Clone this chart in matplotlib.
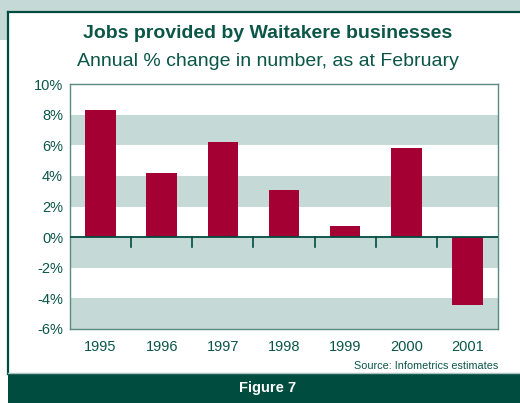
import matplotlib.pyplot as plt
from matplotlib.patches import Rectangle
from matplotlib.lines import Line2D
import numpy as np

plt.rcParams['font.family'] = ['Liberation Sans', 'DejaVu Sans']

years = ["1995", "1996", "1997", "1998", "1999", "2000", "2001"]
change = [8.3, 4.2, 6.2, 3.1, 0.7, 5.8, -4.4]
yticks = [-6, -4, -2, 0, 2, 4, 6, 8, 10]
bands = [(6, 8), (2, 4), (-2, 0), (-6, -4)]

dark = "#004c3f"
text_col = "#0b5646"
band_col = "#c5d9d7"
bar_col = "#a50034"
frame_col = "#5a8a80"

W, H = 520, 403
fig = plt.figure(figsize=(W / 100, H / 100), dpi=100)
fig.patch.set_facecolor("white")

def fx(px):
    return px / W

def fy(py):
    return 1 - py / H

# page background corner and the box border
fig.patches.append(Rectangle((0, fy(12)), 1, 12 / H, transform=fig.transFigure,
                             facecolor=band_col, edgecolor="none", zorder=0))
fig.patches.append(Rectangle((0, fy(40)), fx(8), 28 / H, transform=fig.transFigure,
                             facecolor=band_col, edgecolor="none", zorder=0))
fig.lines.append(Line2D([fx(8), 1], [fy(12), fy(12)], transform=fig.transFigure,
                        color=dark, lw=1.6))
fig.lines.append(Line2D([fx(8), fx(8)], [fy(12), fy(374)], transform=fig.transFigure,
                        color=dark, lw=1.6))
fig.patches.append(Rectangle((fx(8), 0), 1 - fx(8), 29 / H, transform=fig.transFigure,
                             facecolor=dark, edgecolor="none", zorder=1))
fig.lines.append(Line2D([fx(8), 1], [fy(373), fy(373)], transform=fig.transFigure,
                        color="#a9c4c0", lw=1))

fig.text(fx(268), fy(33), "Jobs provided by Waitakere businesses", ha="center", va="center",
         fontsize=14, fontweight="bold", color=text_col)
fig.text(fx(268), fy(61), "Annual % change in number, as at February", ha="center", va="center",
         fontsize=14, color=text_col)
fig.text(fx(498), fy(366), "Source: Infometrics estimates", ha="right", va="center",
         fontsize=7.8, color=text_col)
fig.text(fx(268), fy(388), "Figure 7", ha="center", va="center",
         fontsize=10.5, fontweight="bold", color="white")

ax = fig.add_axes([fx(70), fy(329), fx(498) - fx(70), (329 - 84) / H])
x = np.arange(len(years))
for lo, hi in bands:
    ax.axhspan(lo, hi, color=band_col, lw=0, zorder=0)
ax.bar(x, change, width=0.5, color=bar_col, zorder=2)
ax.axhline(0, color=dark, lw=1.3, zorder=3)
for xb in x[:-1] + 0.5:
    ax.plot([xb, xb], [0, -0.65], color=dark, lw=1.2, zorder=3)

ax.set_xlim(-0.5, len(years) - 0.5)
ax.set_ylim(-6, 10)
ax.set_yticks(yticks)
ax.set_yticklabels([f"{v}%" for v in yticks])
ax.set_xticks(x)
ax.set_xticklabels(years)
ax.tick_params(length=0, labelsize=10.5, labelcolor=text_col)
ax.tick_params(axis="x", pad=8)
ax.tick_params(axis="y", pad=5)
for s in ax.spines.values():
    s.set_color(frame_col)
    s.set_linewidth(1)

fig.savefig("out.png", dpi=100)
